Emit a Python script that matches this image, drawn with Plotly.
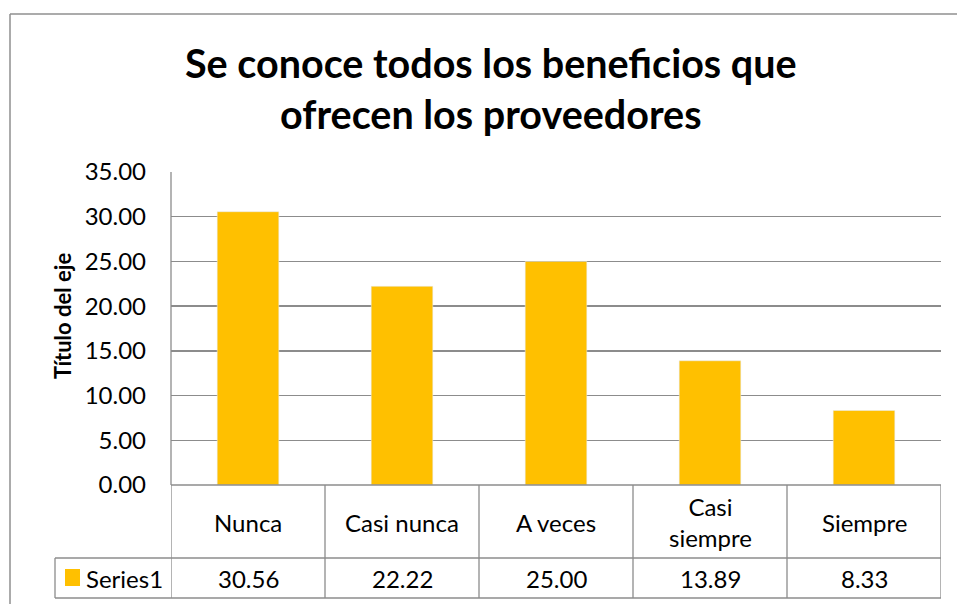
import plotly.graph_objects as go

categories = ["Nunca", "Casi nunca", "A veces", "Casi siempre", "Siempre"]
category_labels = ["Nunca", "Casi nunca", "A veces", "Casi<br>siempre", "Siempre"]
values = [30.56, 22.22, 25.00, 13.89, 8.33]
series_name = "Series1"
title_text = "Se conoce todos los beneficios que<br>ofrecen los proveedores"
y_title = "Título del eje"

BAR = "#FFC000"
GRID = "#8C8C8C"
FONT = "Lato, 'Open Sans', sans-serif"

W, H = 957, 604
# plot area in window pixels
L, R, T, B = 171, 941, 172, 485
PW, PH = R - L, B - T


def px(x):
    return (x - L) / PW


def py(y):
    return (B - y) / PH


fig = go.Figure()
fig.add_trace(go.Bar(x=categories, y=values, marker_color=BAR, name=series_name,
                     showlegend=False))

shapes = []
line = dict(color=GRID, width=1.3)
border = dict(color="#8F8F8F", width=1.5)
# outer chart border (top and left edges visible)
shapes.append(dict(type="line", xref="paper", yref="paper", x0=px(10), x1=px(957),
                   y0=py(14), y1=py(14), line=border))
shapes.append(dict(type="line", xref="paper", yref="paper", x0=px(10), x1=px(10),
                   y0=py(14), y1=py(604), line=border))
# y axis line
shapes.append(dict(type="line", xref="paper", yref="paper", x0=0, x1=0, y0=0, y1=1, line=line))
# table horizontal lines
shapes.append(dict(type="line", xref="paper", yref="paper", x0=0, x1=1, y0=0, y1=0, line=line))
shapes.append(dict(type="line", xref="paper", yref="paper", x0=px(55), x1=1, y0=py(558), y1=py(558), line=line))
shapes.append(dict(type="line", xref="paper", yref="paper", x0=px(55), x1=1, y0=py(598), y1=py(598), line=line))
shapes.append(dict(type="line", xref="paper", yref="paper", x0=px(55), x1=px(55), y0=py(558), y1=py(598), line=line))
# table vertical lines at category boundaries
for i in range(len(categories) + 1):
    shapes.append(dict(type="line", xref="x", yref="paper", x0=i - 0.5, x1=i - 0.5,
                       y0=py(485), y1=py(598), line=line))
# legend key
shapes.append(dict(type="rect", xref="paper", yref="paper", x0=px(65), x1=px(80),
                   y0=py(586), y1=py(569), fillcolor=BAR, line=dict(width=0)))

annotations = []
annotations.append(dict(text=title_text, xref="paper", yref="paper", x=px(491), y=py(88),
                        showarrow=False, font=dict(family=FONT, size=39.5, color="black", weight="bold"),
                        xanchor="center", yanchor="middle"))
annotations.append(dict(text=y_title, xref="paper", yref="paper", x=px(62), y=py(316),
                        textangle=-90, showarrow=False,
                        font=dict(family=FONT, size=22, color="black", weight="bold"),
                        xanchor="center", yanchor="middle"))
for i, (lab, v) in enumerate(zip(category_labels, values)):
    annotations.append(dict(text=lab, xref="x", yref="paper", x=i, y=py(522), showarrow=False,
                            font=dict(family=FONT, size=24, color="black"),
                            xanchor="center", yanchor="middle"))
    annotations.append(dict(text=f"{v:.2f}", xref="x", yref="paper", x=i, y=py(578), showarrow=False,
                            font=dict(family=FONT, size=24, color="black"),
                            xanchor="center", yanchor="middle"))
annotations.append(dict(text=series_name, xref="paper", yref="paper", x=px(84), y=py(578),
                        showarrow=False, font=dict(family=FONT, size=24, color="black"),
                        xanchor="left", yanchor="middle"))

fig.update_layout(
    width=W, height=H,
    margin=dict(l=L, r=W - R, t=T, b=H - B, pad=0),
    paper_bgcolor="white", plot_bgcolor="white",
    bargap=0.6,
    shapes=shapes, annotations=annotations,
    font=dict(family=FONT, size=24, color="black"),
)
fig.update_xaxes(range=[-0.5, 4.5], showticklabels=False, showgrid=False, zeroline=False,
                 showline=False, ticks="")
fig.update_yaxes(range=[0, 35], dtick=5, tickformat=".2f", showgrid=True, gridcolor=GRID,
                 gridwidth=1.3, zeroline=False, showline=False, ticks="",
                 ticklabelstandoff=24, tickfont=dict(family=FONT, size=24, color="black"))

fig.write_html("out.html", config={"displayModeBar": False, "staticPlot": True},
               post_script="document.body.style.margin='0';document.body.style.overflow='hidden';")
